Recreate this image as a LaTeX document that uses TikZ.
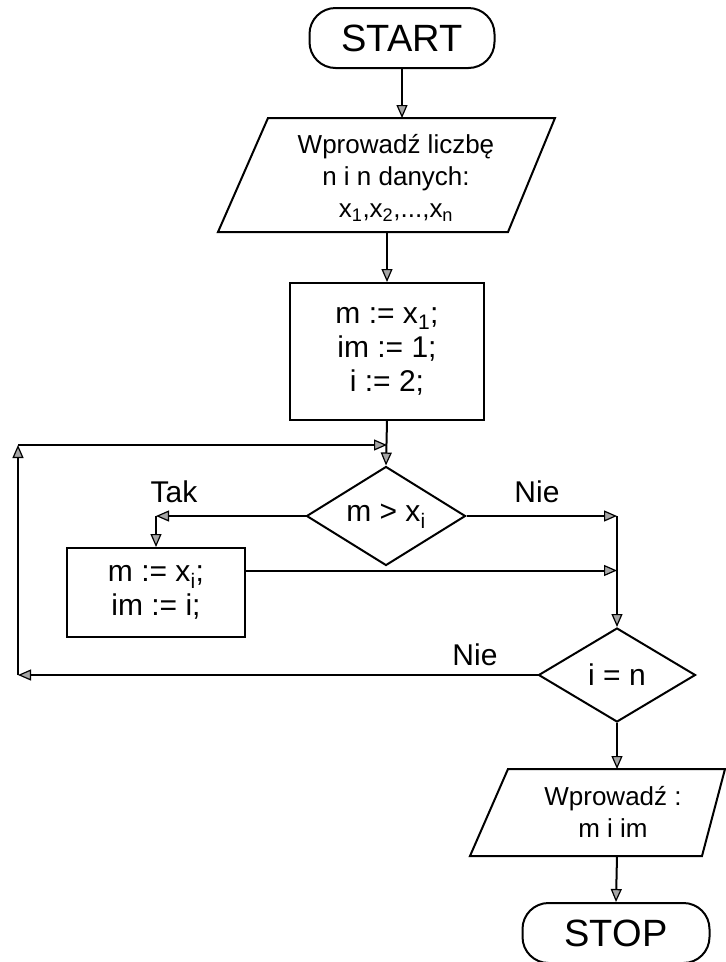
\documentclass[tikz,border=0pt]{standalone}
\usepackage{fontspec}
\setmainfont{Liberation Sans}
\usetikzlibrary{shapes.geometric,arrows.meta,calc}
\begin{document}
\begin{tikzpicture}[x=1pt,y=-1pt,
  every node/.style={font=\fontsize{30}{34}\selectfont},
  line width=2pt,
  arr/.style={-{Triangle[length=13pt,width=11pt,fill=gray!70,line width=1.2pt]}},
  term/.style={draw, rounded corners=26pt, minimum width=185pt, minimum height=60pt, inner sep=0pt, font=\fontsize{38}{40}\selectfont},
  proc/.style={draw, align=center, inner sep=0pt},
  iotext/.style={align=center, font=\fontsize{26}{32}\selectfont},
  dec/.style={draw, diamond, inner sep=0pt, shape aspect=1.6}
]
\useasboundingbox[fill=white] (0,0) rectangle (726,962);

\node[term] (start) at (402,38) {START};
% input parallelogram 1
\coordinate (p1tl) at (268,118);
\coordinate (p1tr) at (555,118);
\coordinate (p1br) at (508,232);
\coordinate (p1bl) at (218,232);
\draw (p1tl) -- (p1tr) -- (p1br) -- (p1bl) -- cycle;
\node[iotext] (p1t) at (396,178) {Wprowadź liczbę\\n i n danych:\\x\textsubscript{1},x\textsubscript{2},...,x\textsubscript{n}};
\node[proc, minimum width=194pt, minimum height=137pt] (b1) at (387,351.5) {m := x\textsubscript{1};\\im := 1;\\i := 2;};
\node[dec, minimum width=159pt, minimum height=99pt] (d1) at (386,516) {m > x\textsubscript{i}};
\node[proc, minimum width=178pt, minimum height=89pt] (b2) at (156,592.5) {m := x\textsubscript{i};\\im := i;};
\node[dec, minimum width=157pt, minimum height=94pt] (d2) at (617,675) {i = n};
% output parallelogram 2
\coordinate (p2tl) at (508,769);
\coordinate (p2tr) at (725,769);
\coordinate (p2br) at (702,856);
\coordinate (p2bl) at (470,856);
\draw (p2tl) -- (p2tr) -- (p2br) -- (p2bl) -- cycle;
\node[iotext] (p2t) at (613,812) {Wprowadź :\\m i im};
\node[term, minimum width=187pt] (stop) at (616,933) {STOP};

\node (tak) at (174,492) {Tak};
\node (nie1) at (537,492) {Nie};
\node (nie2) at (475,655) {Nie};

\draw[arr] (start.south) -- (start.south |- p1tl);
\draw[arr] (b1.north |- p1bl) -- (b1.north);
\draw[arr] (b1.south) -- (d1.north);
\coordinate (c1) at (b2.north |- d1.west);
\draw[arr] (d1.west) -- (c1);
\draw[arr] (c1) -- (b2.north);
\coordinate (c2) at (d2.north |- d1.east);
\draw[arr] (d1.east) -- (c2);
\draw[arr] (c2) -- (d2.north);
\coordinate (b2r) at ([yshift=22pt]b2.east);
\draw[arr] (b2r) -- (d2.north |- b2r);
\coordinate (c3) at (18,675);
\coordinate (c4) at (18,445);
\draw[arr] (d2.west) -- (c3);
\draw[arr] (c3) -- (c4);
\draw[arr] (c4) -- (b1.south |- c4);
\draw[arr] (d2.south) -- (d2.south |- p2tl);
\draw[arr] (d2.south |- p2bl) -- (stop.north);
\end{tikzpicture}
\end{document}
